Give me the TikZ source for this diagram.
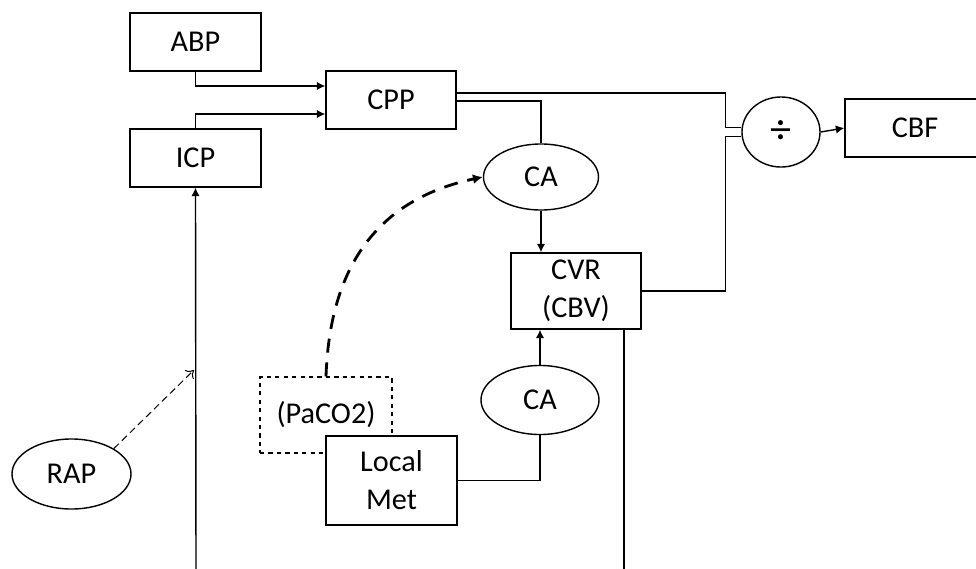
\documentclass[tikz,border=0pt]{standalone}
\usepackage{fontspec}
\setmainfont{Carlito}
\usepackage{tikz}
\usetikzlibrary{calc, arrows.meta, shapes.geometric}

\tikzset{
  block/.style={rectangle, draw=black, fill=white, line width=1pt, minimum width=3.275cm, minimum height=1.45cm, inner sep=0pt, align=center},
  oval/.style={ellipse, draw=black, fill=white, line width=1pt, inner sep=0pt},
  wire/.style={line width=1pt},
  tip/.style={-{Latex[length=6pt, width=6pt]}},
}

\begin{document}
\begin{tikzpicture}[x=0.025cm, y=0.025cm, font=\fontsize{21.5}{27}\selectfont]

        \useasboundingbox (0,0) rectangle (976,-568);

        %% Pressures
        \node (abp) [block] at (195.5,-42) {ABP};
        \node (icp) [block] at (195.5,-158) {ICP};
        \node (cpp) [block, minimum width=3.25cm] at (391,-100) {CPP};

        %% Divider and output
        \node (div) [oval, minimum width=1.95cm, minimum height=1.75cm] at (781,-132) {\fontsize{30}{30}\selectfont ÷};
        \node (cbf) [block, minimum width=3.5cm] at (915,-128) {CBF};

        %% Autoregulation
        \node (caup) [oval, minimum width=2.875cm, minimum height=1.65cm] at (541,-177) {CA};
        \node (cvr) [block, minimum width=3.25cm, minimum height=1.9cm] at (576,-291) {CVR\\(CBV)};
        \node (calow) [oval, minimum width=2.95cm, minimum height=1.725cm] at (540,-400) {CA};

        %% Metabolism
        \node (paco) [block, dashed, line width=0.8pt, minimum width=3.3cm, minimum height=1.9cm] at (326,-415) {(PaCO2)};
        \node (met) [block, minimum height=2.225cm] at (391.5,-480.5) {Local\\Met};

        %% Venous pressure
        \node (rap) [oval, minimum width=2.975cm, minimum height=1.75cm] at (71.5,-474) {RAP};

        %% Free ends
        \coordinate (icpin) at (196,-572);
        \coordinate (cvrout) at (624,-572);
        \coordinate (raptip) at (194,-370);

        %% Arrows
        \draw [wire, tip] (abp.south) |- ($(cpp.west)+(0,14)$);
        \draw [wire, tip] (icp.north) |- ($(cpp.west)+(0,-14)$);
        \draw [wire, tip] (icpin) -- (icp.south);
        \draw [line width=0.7pt, dash pattern=on 5pt off 3pt, -{To[length=5pt, width=9pt]}] (rap.31) -- (raptip);

        \draw [wire] ($(cpp.east)+(0,7)$) -| ($(div.west)+(-16,4.5)$) -- ($(div.west)+(0,4.5)$);
        \draw [wire] ($(cpp.east)+(0,-1)$) -| (caup.north);
        \draw [wire] (cvr.east) -| ($(div.west)+(-16,-4.5)$) -- ($(div.west)+(0,-4.5)$);
        \draw [wire, tip] (div.east) -- (cbf.west);

        \draw [wire, tip] (caup.south) -- (caup.south |- cvr.north);
        \draw [wire, tip] (calow.north) -- (calow.north |- cvr.south);
        \draw [wire] (met.east) -| (calow.south);
        \draw [wire] (cvr.south -| cvrout) -- (cvrout);

        \draw [line width=2pt, dash pattern=on 10pt off 7pt, -{Latex[length=7pt, width=7pt]}] (paco.north) to [out=88, in=192, looseness=1.1] (caup.west);

    \end{tikzpicture}
\end{document}
